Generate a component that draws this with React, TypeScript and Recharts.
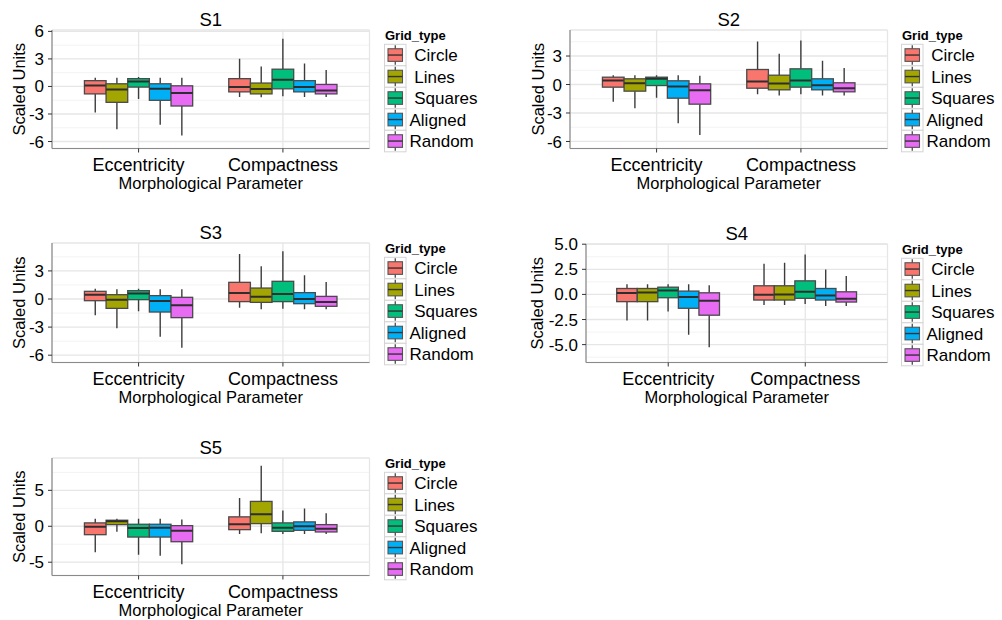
import React from 'react';
import { ComposedChart, Bar, XAxis, YAxis, CartesianGrid } from 'recharts';

// ---------- data ----------
const categories = ['Eccentricity', 'Compactness'];
const seriesNames = ['Circle', 'Lines', 'Squares', 'Aligned', 'Random'];
const legendLabels = [' Circle', ' Lines', ' Squares', 'Aligned', 'Random'];
const seriesColors = ['#F8766D', '#A3A500', '#00BF7D', '#00B0F6', '#E76BF3'];
const panelTitles = ['S1', 'S2', 'S3', 'S4', 'S5'];

// each entry: [whiskerLow, q1, median, q3, whiskerHigh] for [Eccentricity, Compactness]
const s1Circle = [[-2.83, -0.81, 0.11, 0.63, 0.96], [-1.14, -0.59, -0.07, 0.85, 3.02]];
const s1Lines = [[-4.67, -1.73, -0.33, 0.29, 0.96], [-1.18, -0.81, -0.29, 0.37, 2.17]];
const s1Squares = [[-1.36, -0.07, 0.55, 0.85, 1.03], [-1.07, -0.26, 0.74, 1.88, 5.19]];
const s1Aligned = [[-4.16, -1.51, -0.26, 0.29, 0.96], [-1.14, -0.59, -0.07, 0.63, 2.5]];
const s1Random = [[-5.34, -2.13, -0.7, 0.07, 0.96], [-1.14, -0.81, -0.44, 0.22, 1.8]];

const s2Circle = [[-1.82, -0.28, 0.42, 0.77, 0.98], [-1.02, -0.39, 0.32, 1.58, 4.53]];
const s2Lines = [[-2.49, -0.7, 0.14, 0.6, 0.98], [-1.16, -0.56, 0.11, 0.98, 3.23]];
const s2Squares = [[-1.4, -0.11, 0.6, 0.77, 0.98], [-1.02, -0.28, 0.42, 1.65, 4.63]];
const s2Aligned = [[-4.07, -1.44, -0.21, 0.39, 0.98], [-1.16, -0.56, -0.07, 0.6, 2.49]];
const s2Random = [[-5.33, -2.07, -0.6, 0.07, 0.91], [-1.16, -0.77, -0.39, 0.18, 1.75]];

const s3Circle = [[-1.74, -0.18, 0.46, 0.82, 1.1], [-0.93, -0.28, 0.64, 1.78, 4.8]];
const s3Lines = [[-3.13, -1.0, -0.07, 0.46, 1.03], [-1.1, -0.36, 0.25, 1.17, 3.49]];
const s3Squares = [[-1.32, -0.07, 0.6, 0.89, 1.1], [-1.03, -0.28, 0.53, 1.89, 5.09]];
const s3Aligned = [[-4.02, -1.39, -0.21, 0.36, 1.03], [-1.1, -0.5, 0.0, 0.68, 2.53]];
const s3Random = [[-5.2, -1.99, -0.68, 0.18, 1.03], [-1.1, -0.78, -0.32, 0.28, 1.81]];

const s4Circle = [[-2.6, -0.72, 0.13, 0.59, 1.02], [-1.05, -0.56, -0.03, 0.86, 3.06]];
const s4Lines = [[-2.6, -0.72, 0.2, 0.59, 1.02], [-1.05, -0.56, 0.0, 0.86, 3.16]];
const s4Squares = [[-1.71, -0.33, 0.39, 0.72, 1.02], [-0.95, -0.39, 0.26, 1.35, 3.98]];
const s4Aligned = [[-4.01, -1.38, -0.26, 0.33, 1.02], [-1.15, -0.56, -0.1, 0.59, 2.47]];
const s4Random = [[-5.26, -2.07, -0.63, 0.16, 0.92], [-1.15, -0.76, -0.43, 0.26, 1.84]];

const s5Circle = [[-3.6, -1.17, -0.05, 0.47, 1.03], [-1.07, -0.47, 0.28, 1.31, 3.93]];
const s5Lines = [[-0.75, 0.23, 0.7, 0.84, 1.03], [-0.98, 0.37, 1.68, 3.46, 8.41]];
const s5Squares = [[-3.97, -1.5, -0.23, 0.28, 1.03], [-1.07, -0.7, -0.19, 0.47, 2.2]];
const s5Aligned = [[-4.11, -1.5, -0.19, 0.28, 1.03], [-1.07, -0.56, 0.0, 0.61, 2.48]];
const s5Random = [[-5.28, -2.15, -0.61, 0.09, 0.93], [-1.07, -0.79, -0.33, 0.23, 1.82]];

const ticksS1 = [-6, -3, 0, 3, 6];
const ticksS2 = [-6, -3, 0, 3];
const ticksS3 = [-6, -3, 0, 3];
const ticksS4 = [-5, -2.5, 0, 2.5, 5];
const ticksS5 = [-5, 0, 5];
const minorS1 = [-4.5, -1.5, 1.5, 4.5];
const minorS2 = [-4.5, -1.5, 1.5, 4.5];
const minorS3 = [-4.5, -1.5, 1.5, 4.5];
const minorS4 = [-6.25, -3.75, -1.25, 1.25, 3.75];
const minorS5 = [-2.5, 2.5, 7.5];
const domainS1 = [-6.76, 6.15];
const domainS2 = [-6.74, 5.74];
const domainS3 = [-6.78, 5.98];
const domainS4 = [-6.78, 5.02];
const domainS5 = [-6.85, 9.5];

// ---------- layout ----------
const FONT = '"Liberation Sans", Arial, sans-serif';
const BORDER = '#8a8a8a';

type PanelCfg = {
  title: string;
  series: number[][][];
  ticks: number[];
  minor: number[];
  domain: number[];
  decimals: number;
  L: number; T: number; R: number; B: number;
  chartLeft: number;
  legendX: number;
};

const panels: PanelCfg[] = [
  { title: panelTitles[0], series: [s1Circle, s1Lines, s1Squares, s1Aligned, s1Random], ticks: ticksS1, minor: minorS1, domain: domainS1, decimals: 0, L: 52, T: 29.5, R: 369.5, B: 148, chartLeft: 9, legendX: 384.5 },
  { title: panelTitles[1], series: [s2Circle, s2Lines, s2Squares, s2Aligned, s2Random], ticks: ticksS2, minor: minorS2, domain: domainS2, decimals: 0, L: 570, T: 29.5, R: 887.5, B: 148, chartLeft: 528, legendX: 901.5 },
  { title: panelTitles[2], series: [s3Circle, s3Lines, s3Squares, s3Aligned, s3Random], ticks: ticksS3, minor: minorS3, domain: domainS3, decimals: 0, L: 52, T: 242.5, R: 369.5, B: 362, chartLeft: 9, legendX: 384.5 },
  { title: panelTitles[3], series: [s4Circle, s4Lines, s4Squares, s4Aligned, s4Random], ticks: ticksS4, minor: minorS4, domain: domainS4, decimals: 1, L: 586, T: 243.5, R: 887.5, B: 362, chartLeft: 527, legendX: 901.5 },
  { title: panelTitles[4], series: [s5Circle, s5Lines, s5Squares, s5Aligned, s5Random], ticks: ticksS5, minor: minorS5, domain: domainS5, decimals: 0, L: 52, T: 457.5, R: 369.5, B: 575, chartLeft: 9, legendX: 384.5 },
];

function buildRows(series: number[][][]) {
  return categories.map((cat, ci) => {
    const row: any = { category: cat };
    seriesNames.forEach((name, si) => {
      const s = series[si][ci];
      row[name] = [s[0], s[4]];
      row[name + '_box'] = s;
    });
    return row;
  });
}

function makeBoxShape(name: string, color: string) {
  return (props: any) => {
    const { x, y, width, height } = props;
    const payload = props.payload || props;
    const s = payload[name + '_box'];
    if (!s || x == null || y == null) return <g />;
    const top = Math.min(y, y + height);
    const bottom = Math.max(y, y + height);
    const span = s[4] - s[0];
    const py = (v: number) => bottom - ((v - s[0]) / span) * (bottom - top);
    const cx = x + width / 2;
    const q1 = py(s[1]);
    const med = py(s[2]);
    const q3 = py(s[3]);
    return (
      <g>
        <line x1={cx} x2={cx} y1={top} y2={q3} stroke="#3c3c3c" strokeWidth={1.4} />
        <line x1={cx} x2={cx} y1={q1} y2={bottom} stroke="#3c3c3c" strokeWidth={1.4} />
        <rect x={x} y={q3} width={width} height={Math.max(q1 - q3, 0.5)} fill={color} stroke="#4a4a4a" strokeWidth={1.3} />
        <line x1={x} x2={x + width} y1={med} y2={med} stroke="#2e2e2e" strokeWidth={2} />
      </g>
    );
  };
}

function Panel({ p }: { p: PanelCfg }) {
  const rows = buildRows(p.series);
  const yW = p.L - p.chartLeft;
  const plotW = p.R - p.L;
  const plotH = p.B - p.T;
  const mTop = 12;
  const mRight = 2;
  const xH = 45;
  const width = yW + plotW + mRight;
  const height = mTop + plotH + xH;
  const band = plotW / 2.2;
  const pad = band * 0.1;
  const boxW = band * 0.15;
  const fmt = (v: number) => (p.decimals ? v.toFixed(p.decimals) : String(v));
  return (
    <div style={{ position: 'absolute', left: p.chartLeft, top: p.T - mTop }}>
      <ComposedChart
        width={width}
        height={height}
        data={rows}
        margin={{ top: mTop, right: mRight, left: 0, bottom: 0 }}
        barGap={0}
        barSize={boxW}
        style={{ fontFamily: FONT }}
      >
        <CartesianGrid horizontalValues={p.minor} vertical={false} stroke="#f3f3f3" strokeWidth={1} />
        <CartesianGrid stroke="#e6e6e6" strokeWidth={1.3} />
        <XAxis
          dataKey="category"
          type="category"
          padding={{ left: pad, right: pad }}
          height={xH}
          tickSize={4}
          tickMargin={6}
          tick={{ fontSize: 18, fill: '#000', fontFamily: FONT }}
          tickLine={{ stroke: '#333' }}
          axisLine={{ stroke: BORDER, strokeWidth: 1.2 }}
          interval={0}
          label={{ value: 'Morphological Parameter', position: 'insideBottom', offset: 5, style: { fontSize: 16.5, fill: '#000', fontFamily: FONT } }}
        />
        <XAxis
          xAxisId="top"
          orientation="top"
          dataKey="category"
          type="category"
          height={0}
          tick={false}
          tickLine={false}
          axisLine={{ stroke: BORDER, strokeWidth: 1.2 }}
        />
        <YAxis
          type="number"
          domain={p.domain}
          ticks={p.ticks}
          allowDataOverflow
          interval={0}
          width={yW}
          tickSize={4}
          tickMargin={4}
          tickFormatter={fmt}
          tick={{ fontSize: 17, fill: '#000', fontFamily: FONT }}
          tickLine={{ stroke: '#333' }}
          axisLine={{ stroke: BORDER, strokeWidth: 1.2 }}
          label={{ value: 'Scaled Units', angle: -90, position: 'insideLeft', offset: 10, style: { textAnchor: 'middle', fontSize: 16.5, fill: '#000', fontFamily: FONT } }}
        />
        <YAxis
          yAxisId="right"
          orientation="right"
          type="number"
          domain={p.domain}
          allowDataOverflow
          width={0}
          tick={false}
          tickLine={false}
          axisLine={{ stroke: BORDER, strokeWidth: 1.2 }}
        />
        {seriesNames.map((n, i) => (
          <Bar
            key={n}
            dataKey={n}
            fill={seriesColors[i]}
            isAnimationActive={false}
            shape={makeBoxShape(n, seriesColors[i])}
          />
        ))}
      </ComposedChart>
    </div>
  );
}

function Overlay() {
  const cell = 21.5;
  return (
    <svg width={1002} height={620} style={{ position: 'absolute', left: 0, top: 0, pointerEvents: 'none', fontFamily: FONT }}>
      {panels.map((p, pi) => {
        const lt = p.T + 14.8;
        return (
          <g key={pi}>
            <text x={(p.L + p.R) / 2} y={p.T - 3.3} textAnchor="middle" fontSize={18.5} fill="#000">{p.title}</text>
            <text x={p.legendX + 0.5} y={p.T + 10.5} fontSize={13} fontWeight="bold" fill="#000">Grid_type</text>
            {seriesNames.map((n, i) => {
              const top = lt + cell * i;
              const cy = top + cell / 2;
              const cx = p.legendX + cell / 2;
              return (
                <g key={n}>
                  <rect x={p.legendX} y={top} width={cell} height={cell} fill="#fff" stroke="#d4d4d4" strokeWidth={1} />
                  <line x1={cx} x2={cx} y1={top + 1} y2={top + cell - 1} stroke="#3c3c3c" strokeWidth={1.2} />
                  <rect x={p.legendX + 3.5} y={cy - 6.3} width={cell - 7} height={12.6} fill={seriesColors[i]} stroke="#555" strokeWidth={1.1} />
                  <line x1={p.legendX + 3.5} x2={p.legendX + cell - 3.5} y1={cy} y2={cy} stroke="#333" strokeWidth={1.4} />
                  <text x={p.legendX + cell + 3.5} y={cy + 6.1} fontSize={17} fill="#000" style={{ whiteSpace: 'pre' }}>{legendLabels[i]}</text>
                </g>
              );
            })}
          </g>
        );
      })}
    </svg>
  );
}

export default function App() {
  return (
    <div style={{ position: 'absolute', left: 0, top: 0, width: 1002, height: 620, background: '#fff', overflow: 'hidden' }}>
      {panels.map((p, i) => (
        <Panel key={i} p={p} />
      ))}
      <Overlay />
    </div>
  );
}
